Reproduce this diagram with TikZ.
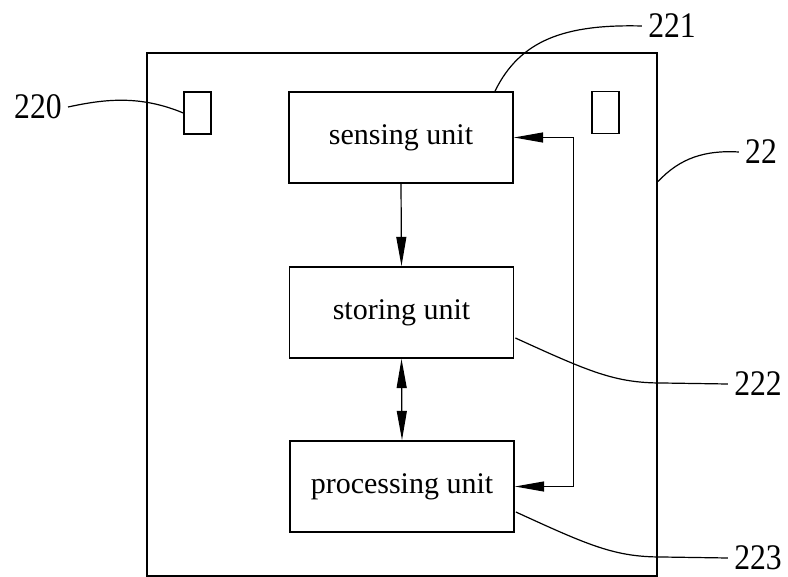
\documentclass[tikz,border=0pt]{standalone}
\usepackage{fontspec}
\setmainfont{Liberation Serif}
\newfontfamily\numfont[FakeStretch=0.88]{Liberation Serif}
\usetikzlibrary{arrows.meta,calc}
\tikzset{
  unitbox/.style={draw, line width=1.3pt, minimum width=168pt, minimum height=68.25pt, inner sep=0pt, font=\fontsize{22.5}{27}\selectfont},
  sensorbox/.style={draw, line width=1pt, minimum width=20.25pt, minimum height=31.5pt, inner sep=0pt},
  housingbox/.style={draw, line width=1.6pt, minimum width=382.5pt, minimum height=392.25pt, inner sep=0pt},
  tipA/.tip={Triangle[length=22pt,width=7.5pt]},
  flow/.style={line width=0.9pt, -tipA},
  dflow/.style={line width=0.9pt, tipA-tipA},
  leader/.style={line width=0.9pt},
  refnum/.style={font=\numfont\fontsize{27}{30}\selectfont, inner sep=4.5pt}
}
\begin{document}
\begin{tikzpicture}[x=0.75pt,y=-0.75pt]
\useasboundingbox (0,0) rectangle (788,577);
% housing
\node[housingbox] (housing) at (402,314.5) {};
% sensors
\node[sensorbox] (sensL) at (197.5,113) {};
\node[sensorbox] (sensR) at (605.5,112.5) {};
% units
\node[unitbox] (sensing) at (401,137.5) {sensing unit};
\node[unitbox] (storing) at (401.5,312.5) {storing unit};
\node[unitbox] (processing) at (402,486.5) {processing unit};
% flows
\draw[flow] (sensing.south) -- (storing.north);
\draw[dflow] (storing.south) -- (processing.north);
\draw[dflow] (sensing.east) -- ++(60,0) |- (processing.east);
% reference numerals
\node[refnum] (l220) at (38,107) {220};
\node[refnum] (l221) at (672,26) {221};
\node[refnum] (l22) at (761,152) {22};
\node[refnum] (l222) at (758,384) {222};
\node[refnum] (l223) at (758,558) {223};
% leaders
\draw[leader] (l220.east) .. controls (105,99) and (140,95) .. (sensL.west);
\draw[leader] (l221.west) .. controls (565,24) and (520,40) .. ($(sensing.north)+(94,0)$);
\draw[leader] (l22.west) .. controls (705,150) and (680,158) .. ($(housing.east)+(0,-133)$);
\coordinate (k222) at (662,383);
\draw[leader] ($(storing.east)+(1,25.5)$) .. controls (590,372) and (615,383) .. (k222) -- (l222.west);
\coordinate (k223) at (662,557);
\draw[leader] ($(processing.east)+(1,25.5)$) .. controls (590,546) and (615,557) .. (k223) -- (l223.west);
\end{tikzpicture}
\end{document}
